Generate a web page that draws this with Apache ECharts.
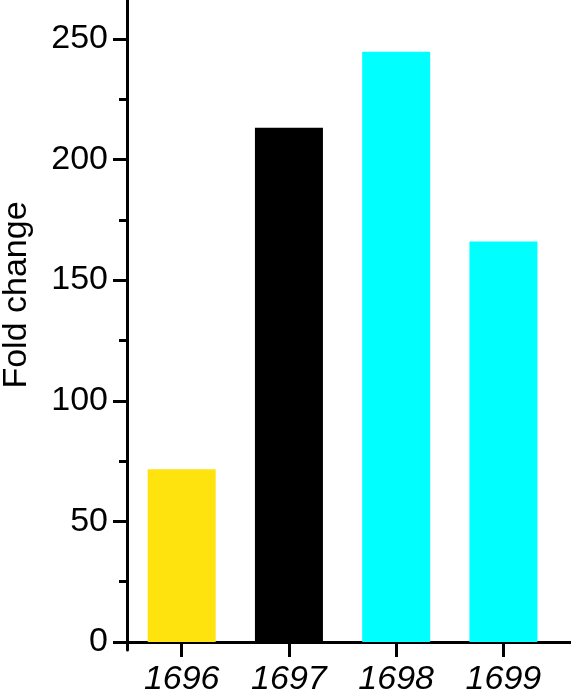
<!DOCTYPE html>
<html>
<head>
<meta charset="utf-8">
<script src="https://cdn.jsdelivr.net/npm/echarts@6/dist/echarts.min.js"></script>
<style>
  html, body { margin: 0; padding: 0; background: #fff; }
  #main { width: 571px; height: 692px; }
</style>
</head>
<body>
<div id="main"></div>
<script>
// data
const categories = ['1696', '1697', '1698', '1699']
const foldChange = [71.6, 213.2, 244.7, 166.0]
const barColors = ['#FFE30F', '#000000', '#00FFFF', '#00FFFF']
const yMajorTicks = [0, 50, 100, 150, 200, 250]
const yMinorTicks = [25, 75, 125, 175, 225]

const font = 'Liberation Sans, Arial, sans-serif'
const positions = categories.map((c, i) => i)

const chart = echarts.init(document.getElementById('main'))

chart.setOption({
  animation: false,
  backgroundColor: '#fff',
  grid: {
    left: 127,
    right: 0,
    top: 0,
    bottom: 42,
    containLabel: false,
    outerBoundsMode: 'none'
  },
  xAxis: {
    type: 'value',
    min: -0.51,
    max: 3.63,
    splitLine: { show: false },
    axisLine: {
      onZero: true,
      lineStyle: { color: '#000', width: 3 }
    },
    axisTick: {
      customValues: positions,
      length: 15,
      lineStyle: { color: '#000', width: 3 }
    },
    axisLabel: {
      customValues: positions,
      margin: 13,
      fontSize: 34,
      fontStyle: 'italic',
      fontFamily: font,
      color: '#000',
      formatter: v => categories[Math.round(v)]
    }
  },
  yAxis: [
    {
      type: 'value',
      min: -3.3,
      max: 266.1,
      name: 'Fold change',
      nameLocation: 'middle',
      nameGap: 93,
      nameTextStyle: {
        fontSize: 34,
        fontFamily: font,
        color: '#000',
        padding: [0, 0, 0, 60]
      },
      splitLine: { show: false },
      axisLine: {
        show: true,
        onZero: false,
        lineStyle: { color: '#000', width: 3 }
      },
      axisTick: {
        customValues: yMajorTicks,
        length: 14,
        lineStyle: { color: '#000', width: 3 }
      },
      axisLabel: {
        customValues: yMajorTicks,
        margin: 19,
        fontSize: 34,
        fontFamily: font,
        color: '#000'
      }
    },
    {
      // minor ticks only
      type: 'value',
      position: 'left',
      min: -3.3,
      max: 266.1,
      splitLine: { show: false },
      axisLine: { show: false, onZero: false },
      axisTick: {
        customValues: yMinorTicks,
        length: 8,
        lineStyle: { color: '#000', width: 3 }
      },
      axisLabel: { show: false }
    }
  ],
  series: [
    {
      type: 'bar',
      barWidth: 68,
      data: foldChange.map((v, i) => ({
        value: [i, v],
        itemStyle: { color: barColors[i] }
      }))
    }
  ]
})
</script>
</body>
</html>
